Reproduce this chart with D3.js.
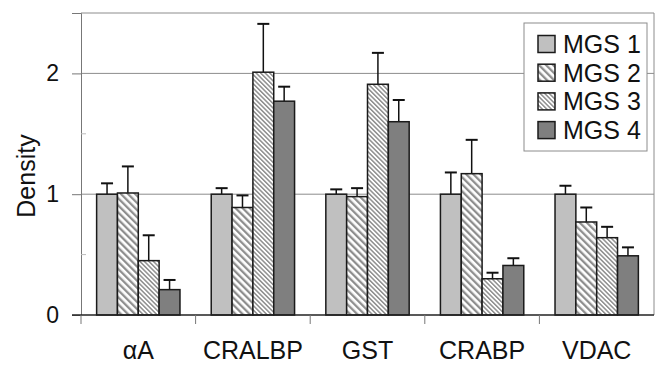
<!DOCTYPE html>
<html>
<head>
<meta charset="utf-8">
<script src="https://cdn.jsdelivr.net/npm/d3@7"></script>
<style>
  html, body { margin: 0; padding: 0; background: #fff; }
  svg { display: block; font-family: "Liberation Sans", Arial, sans-serif; }
</style>
</head>
<body>
<svg id="chart" width="660" height="365"></svg>
<script>
// Relative density per protein, four MGS grades
const categories = ['αA', 'CRALBP', 'GST', 'CRABP', 'VDAC'];
const series = ['MGS 1', 'MGS 2', 'MGS 3', 'MGS 4'];
const mgs1 = [1.00, 1.00, 1.00, 1.00, 1.00];
const mgs2 = [1.01, 0.89, 0.98, 1.17, 0.77];
const mgs3 = [0.45, 2.01, 1.91, 0.30, 0.64];
const mgs4 = [0.21, 1.77, 1.60, 0.41, 0.49];
// upper end of each error bar
const err1 = [1.09, 1.05, 1.04, 1.18, 1.07];
const err2 = [1.23, 0.99, 1.05, 1.45, 0.89];
const err3 = [0.66, 2.41, 2.17, 0.35, 0.73];
const err4 = [0.29, 1.89, 1.78, 0.47, 0.56];
const yTicks = [0, 1, 2];

const values = [mgs1, mgs2, mgs3, mgs4];
const errs = [err1, err2, err3, err4];
const fills = ['#c0c0c0', 'url(#stripeWide)', 'url(#stripeFine)', '#7f7f7f'];

const margin = { left: 81, right: 6, top: 13, bottom: 50 };
const W = 660, H = 365;
const svg = d3.select('#chart');

const defs = svg.append('defs');
function stripes(id, period, lw) {
  const p = defs.append('pattern').attr('id', id).attr('patternUnits', 'userSpaceOnUse')
    .attr('width', period).attr('height', period).attr('patternTransform', 'rotate(-45)');
  p.append('rect').attr('width', period).attr('height', period).attr('fill', '#fff');
  p.append('rect').attr('width', lw).attr('height', period).attr('fill', '#8e8e8e');
}
stripes('stripeWide', 5, 2.3);
stripes('stripeFine', 3.2, 1.5);

const x0 = d3.scaleBand().domain(categories).range([margin.left, W - margin.right]).padding(0);
const x1 = d3.scaleBand().domain(series).range([0, x0.bandwidth()]).paddingInner(0).paddingOuter(0.75);
const y = d3.scaleLinear().domain([0, 2.5]).range([H - margin.bottom, margin.top]);

// grid + frame
svg.append('g').selectAll('line').data([1, 2]).join('line')
  .attr('x1', margin.left).attr('x2', W - margin.right)
  .attr('y1', d => y(d)).attr('y2', d => y(d))
  .attr('stroke', '#8c8c8c').attr('stroke-width', 1);
svg.append('line').attr('x1', margin.left).attr('x2', W - margin.right)
  .attr('y1', y(2.5)).attr('y2', y(2.5)).attr('stroke', '#8c8c8c');
svg.append('line').attr('x1', W - margin.right).attr('x2', W - margin.right)
  .attr('y1', y(2.5)).attr('y2', y(0)).attr('stroke', '#8c8c8c');

// y axis
const yAxis = svg.append('g').attr('transform', `translate(${margin.left},0)`)
  .call(d3.axisLeft(y).tickValues(yTicks).tickFormat(d3.format('d')).tickSize(9).tickPadding(13));
yAxis.select('.domain').attr('stroke', '#777');
yAxis.selectAll('.tick line').attr('stroke', '#777');
yAxis.selectAll('text').attr('font-size', 23).attr('fill', '#111');
svg.append('g').selectAll('line').data([0.5, 1.5]).join('line')
  .attr('x1', margin.left).attr('x2', margin.left + 5)
  .attr('y1', d => y(d)).attr('y2', d => y(d)).attr('stroke', '#bbb');

// bars
const groups = svg.append('g').selectAll('g').data(categories).join('g')
  .attr('transform', d => `translate(${x0(d)},0)`);
series.forEach((s, si) => {
  groups.append('line')
    .attr('x1', (d, i) => x1(s) + x1.bandwidth() / 2).attr('x2', (d, i) => x1(s) + x1.bandwidth() / 2)
    .attr('y1', (d, i) => y(values[si][i])).attr('y2', (d, i) => y(errs[si][i]))
    .attr('stroke', '#111').attr('stroke-width', 1.5);
  groups.append('line')
    .attr('x1', (d, i) => x1(s) + x1.bandwidth() / 2 - 6).attr('x2', (d, i) => x1(s) + x1.bandwidth() / 2 + 6)
    .attr('y1', (d, i) => y(errs[si][i])).attr('y2', (d, i) => y(errs[si][i]))
    .attr('stroke', '#111').attr('stroke-width', 2);
  groups.append('rect')
    .attr('x', x1(s)).attr('width', x1.bandwidth())
    .attr('y', (d, i) => y(values[si][i]))
    .attr('height', (d, i) => y(0) - y(values[si][i]))
    .attr('fill', fills[si]).attr('stroke', '#1a1a1a').attr('stroke-width', 1.5);
});

// x axis
const xAxis = svg.append('g').attr('transform', `translate(0,${y(0)})`)
  .call(d3.axisBottom(x0).tickSize(0).tickPadding(26));
xAxis.select('.domain').attr('stroke', '#222').attr('stroke-width', 1.5)
  .attr('d', `M${margin.left - 9},0H${W - margin.right}`);
xAxis.selectAll('text').attr('font-size', 25).attr('fill', '#111');
svg.append('g').selectAll('line').data(categories.slice(1)).join('line')
  .attr('x1', d => x0(d)).attr('x2', d => x0(d))
  .attr('y1', y(0)).attr('y2', y(0) + 9).attr('stroke', '#777');
svg.append('line').attr('x1', margin.left).attr('x2', margin.left)
  .attr('y1', y(0)).attr('y2', y(0) + 9).attr('stroke', '#777');

// y title
svg.append('text').attr('transform', `translate(35,176) rotate(-90)`)
  .attr('text-anchor', 'middle').attr('font-size', 25).attr('fill', '#111').text('Density');

// legend
const lg = svg.append('g').attr('transform', 'translate(524,23)');
lg.append('rect').attr('width', 123).attr('height', 128).attr('fill', '#fff').attr('stroke', '#8c8c8c');
const items = lg.selectAll('g').data(series).join('g')
  .attr('transform', (d, i) => `translate(14,${21 + i * 28.7})`);
items.append('rect').attr('x', 0).attr('y', -8.5).attr('width', 17).attr('height', 17)
  .attr('fill', (d, i) => fills[i]).attr('stroke', '#1a1a1a').attr('stroke-width', 1.5);
items.append('text').attr('x', 25).attr('y', 0).attr('dy', '0.36em')
  .attr('font-size', 25).attr('fill', '#111').text(d => d);
</script>
</body>
</html>
